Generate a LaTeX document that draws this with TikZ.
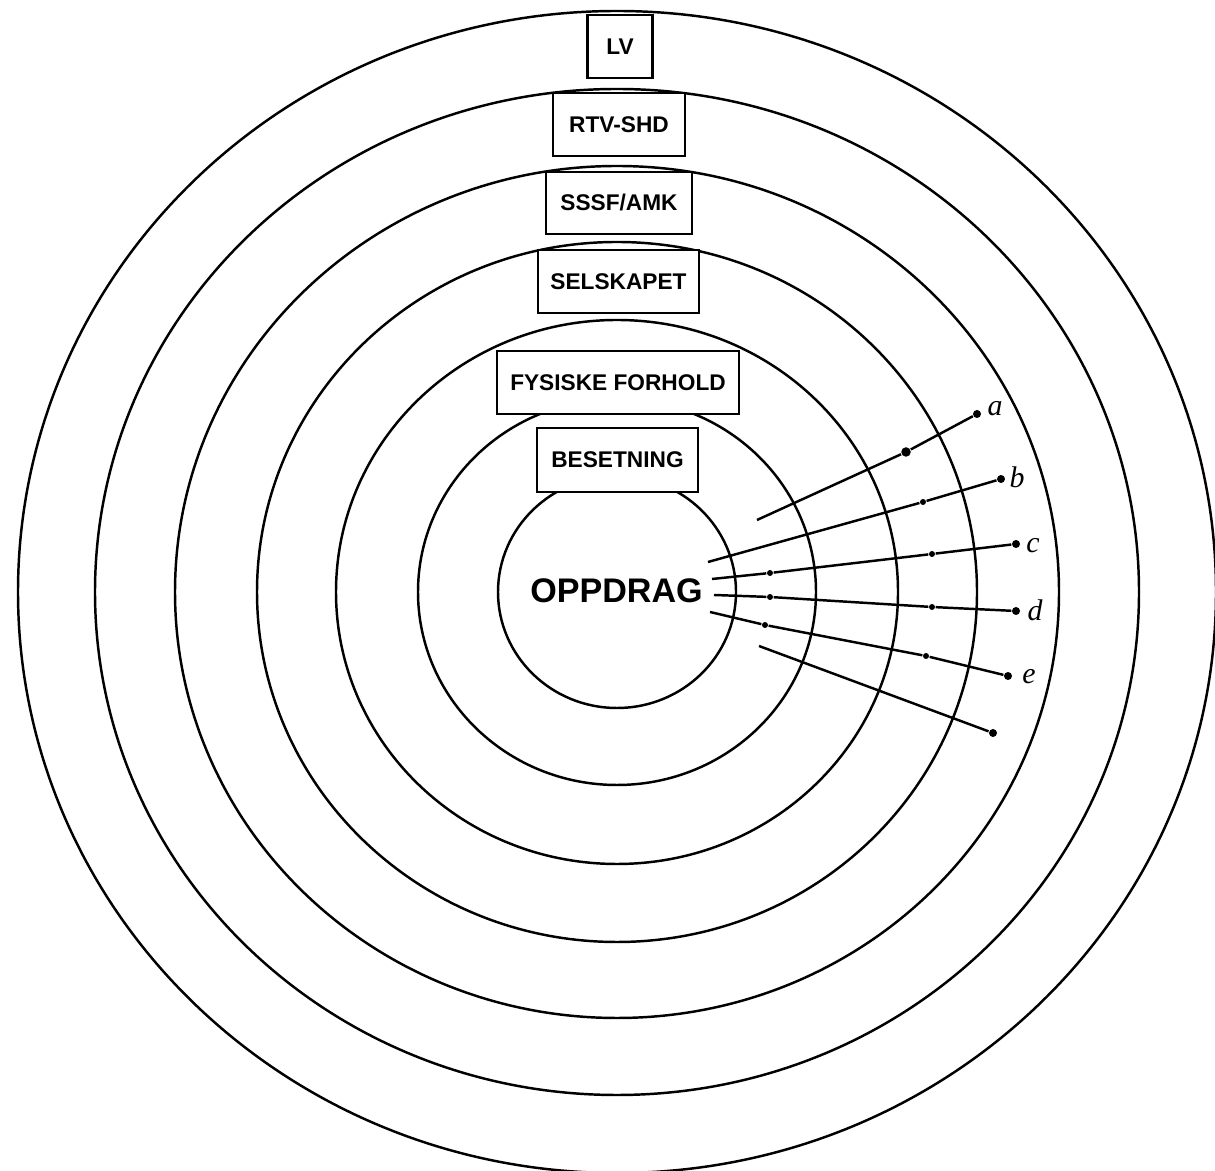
\documentclass[tikz,border=0pt]{standalone}
\usepackage{fontspec}
\setmainfont{Liberation Sans}
\newfontfamily\handfont{Liberation Serif}
\begin{document}
\begin{tikzpicture}[x=0.01cm,y=-0.01cm,
  ring/.style={draw=black,line width=0.7pt},
  label box/.style={draw=black,fill=white,line width=0.8pt,inner sep=0pt,
     font=\fontsize{6.45}{7}\selectfont\bfseries},
  ray/.style={draw=black,line width=0.7pt},
  bigdot/.style={circle,fill=black,inner sep=0pt,minimum size=0.095cm},
  enddot/.style={circle,fill=black,inner sep=0pt,minimum size=0.08cm},
  smalldot/.style={circle,fill=black,inner sep=0pt,minimum size=0.06cm},
  letter/.style={inner sep=0pt,font=\handfont\itshape\fontsize{8.5}{10}\selectfont}]
\useasboundingbox (0,0) rectangle (1215,1171);
\fill[white] (0,0) rectangle (1215,1171);
% rings
\coordinate (ctr) at (617,592);
\draw[ring] (ctr) ellipse [x radius=599, y radius=581];
\draw[ring] (ctr) ellipse [x radius=522, y radius=503];
\draw[ring] (ctr) ellipse [x radius=442, y radius=426];
\draw[ring] (ctr) ellipse [x radius=360, y radius=350];
\draw[ring] (ctr) ellipse [x radius=281, y radius=272];
\draw[ring] (ctr) ellipse [x radius=199, y radius=193];
\draw[ring] (ctr) ellipse [x radius=119, y radius=116];
% rays
\coordinate (a0) at (757,520);
\node[bigdot] (a1) at (906,452) {};
\node[enddot] (a2) at (977,414) {};
\node[letter] (la) at (995,409) {a};
\draw[ray] (a0) -- (a1) -- (a2);
\coordinate (b0) at (708,562);
\node[smalldot] (b1) at (923,502) {};
\node[enddot] (b2) at (1001,479) {};
\node[letter] (lb) at (1017,477) {b};
\draw[ray] (b0) -- (b1) -- (b2);
\coordinate (c0) at (712,579);
\node[smalldot] (c1) at (770,573) {};
\node[smalldot] (c2) at (932,554) {};
\node[enddot] (c3) at (1016,544) {};
\node[letter] (lc) at (1033,546) {c};
\draw[ray] (c0) -- (c1) -- (c2) -- (c3);
\coordinate (d0) at (714,595);
\node[smalldot] (d1) at (770,597) {};
\node[smalldot] (d2) at (932,607) {};
\node[enddot] (d3) at (1016,611) {};
\node[letter] (ld) at (1035,610) {d};
\draw[ray] (d0) -- (d1) -- (d2) -- (d3);
\coordinate (e0) at (710,612);
\node[smalldot] (e1) at (765,625) {};
\node[smalldot] (e2) at (926,656) {};
\node[enddot] (e3) at (1008,676) {};
\node[letter] (le) at (1029,677) {e};
\draw[ray] (e0) -- (e1) -- (e2) -- (e3);
\coordinate (f0) at (759,646);
\node[enddot] (f1) at (993,733) {};
\draw[ray] (f0) -- (f1);
% boxes
\node[label box,minimum width=0.65cm,minimum height=0.63cm] (lv) at (620,46.5) {LV};
\node[label box,minimum width=1.32cm,minimum height=0.63cm] (rtv) at (619,124.5) {RTV-SHD};
\node[label box,minimum width=1.46cm,minimum height=0.62cm] (sssf) at (619,203) {SSSF/AMK};
\node[label box,minimum width=1.61cm,minimum height=0.63cm] (sel) at (618.5,281.5) {SELSKAPET};
\node[label box,minimum width=2.42cm,minimum height=0.63cm] (fys) at (618,382.5) {FYSISKE FORHOLD};
\node[label box,minimum width=1.61cm,minimum height=0.64cm] (bes) at (617.5,460) {BESETNING};
% centre
\node[inner sep=0pt,font=\fontsize{9.7}{12}\selectfont\bfseries] (opp) at (616.5,591) {OPPDRAG};
\end{tikzpicture}
\end{document}
